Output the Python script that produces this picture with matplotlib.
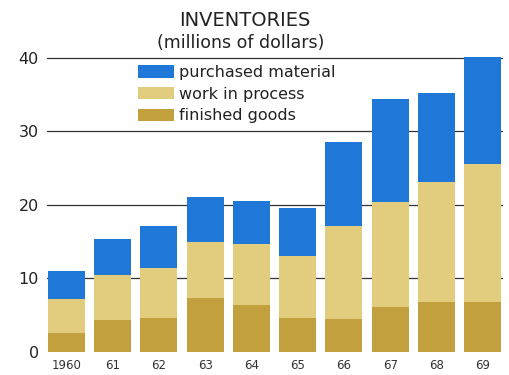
import numpy as np
import matplotlib.pyplot as plt

plt.rcParams['font.family'] = ['DejaVu Sans']

years = ['1960', '61', '62', '63', '64', '65', '66', '67', '68', '69']
finished = [2.6, 4.3, 4.6, 7.3, 6.4, 4.6, 4.5, 6.1, 6.8, 6.8]
in_process = [4.6, 6.2, 6.8, 7.7, 8.3, 8.5, 12.6, 14.3, 16.3, 18.8]
purchased = [3.8, 4.9, 5.7, 6.1, 5.8, 6.5, 11.5, 14.0, 12.1, 14.5]

blue = '#1f78d8'
wheat = '#e2cc7e'
gold = '#c2a03e'

fig = plt.figure(figsize=(5.09, 3.75), dpi=100)
ax = fig.add_axes([47 / 509, 23 / 375, 456 / 509, 301.4 / 375])

x = np.arange(len(years))
fin = np.array(finished)
wip = np.array(in_process)
pur = np.array(purchased)

for y in [10, 20, 30, 40]:
    ax.axhline(y, color='#333333', lw=0.9, zorder=1)

ax.bar(x, fin, width=0.8, color=gold, zorder=2, label='finished goods')
ax.bar(x, wip, width=0.8, bottom=fin, color=wheat, zorder=2, label='work in process')
ax.bar(x, pur, width=0.8, bottom=fin + wip, color=blue, zorder=2, label='purchased material')

ax.set_xlim(-0.42, 9.44)
ax.set_ylim(0, 41)
ax.set_xticks(x)
ax.set_xticklabels(years, fontsize=8.5, color='#333333')
ax.set_yticks([0, 10, 20, 30, 40])
ax.set_yticklabels(['0', '10', '20', '30', '40'], fontsize=11.5, color='#222222')
ax.tick_params(length=0, axis='y', pad=6)
ax.tick_params(length=0, axis='x', pad=5)
for s in ax.spines.values():
    s.set_visible(False)

fig.text(245 / 509, 1 - 20 / 375, 'INVENTORIES', ha='center', va='center',
         fontsize=14, color='#222222')
fig.text(241 / 509, 1 - 43 / 375, '(millions of dollars)', ha='center', va='center',
         fontsize=12.5, color='#222222')

handles, labels = ax.get_legend_handles_labels()
leg = fig.legend(handles[::-1], labels[::-1], loc='upper left',
                 bbox_to_anchor=(138 / 509, 1 - 65 / 375), frameon=False,
                 fontsize=11.5, handlelength=2.25, handleheight=0.84,
                 labelspacing=0.42, handletextpad=0.3, borderpad=0, borderaxespad=0)
for t in leg.get_texts():
    t.set_color('#222222')

fig.savefig('out.png', dpi=100)
